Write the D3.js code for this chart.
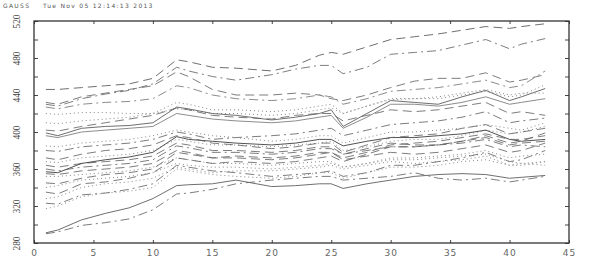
<!DOCTYPE html>
<html>
<head>
<meta charset="utf-8">
<script src="https://cdn.jsdelivr.net/npm/d3@7"></script>
<style>
  body { margin: 0; background: #fff; }
  svg { display: block; }
  .tick line { stroke: #444; }
</style>
</head>
<body>
<div id="chart"></div>
<script>
// sample positions along the x axis
const xs = [1, 2, 4, 6, 8, 10, 12, 13, 15, 17, 20, 22, 24, 25, 26, 28, 30, 32, 34, 36, 38, 40, 41, 43];

// each series: line style + values at xs
const series = [
    { style: 'dash',    color: '#555', values: [446,446,448,450,452,458,478,476,470,469,466,472,483,486,484,492,500,503,506,510,514,512,514,517] },
    { style: 'dashdot', color: '#666', values: [430,428,436,441,445,452,470,466,460,456,462,468,472,472,463,470,484,486,488,494,500,490,495,501] },
    { style: 'dash',    color: '#666', values: [432,430,438,442,446,450,465,460,446,440,440,442,440,436,434,440,448,455,458,458,464,454,456,462] },
    { style: 'dashdot', color: '#777', values: [427,425,430,432,433,436,450,448,440,436,434,436,440,438,430,436,444,446,448,452,456,448,450,466] },
    { style: 'dot',     color: '#888', values: [420,419,421,421,420,420,425,424,420,420,418,420,424,426,420,428,435,436,436,440,444,438,440,451] },
    { style: 'solid',   color: '#555', values: [399,396,404,406,407,410,427,425,420,418,413,416,420,424,406,420,434,432,430,438,445,434,438,447] },
    { style: 'solid',   color: '#777', values: [396,394,400,402,404,406,420,418,414,412,410,412,416,418,404,416,430,430,428,432,438,430,432,436] },
    { style: 'dash',    color: '#666', values: [402,401,406,410,414,418,426,424,418,416,414,418,420,420,412,418,424,422,424,428,432,420,422,418] },
    { style: 'dashdot', color: '#666', values: [380,379,384,386,388,392,400,398,392,394,396,398,402,404,396,402,408,410,412,416,422,410,412,415] },
    { style: 'dot',     color: '#888', values: [368,367,372,374,376,380,392,390,386,386,384,386,388,390,380,384,390,392,392,396,402,398,400,406] },
    { style: 'dash',    color: '#666', values: [364,362,366,368,370,374,388,386,380,380,378,380,384,384,376,382,388,386,386,390,396,388,390,399] },
    { style: 'solid',   color: '#333', values: [357,356,366,370,373,378,395,392,390,388,386,388,392,392,385,390,394,394,396,398,402,392,390,392] },
    { style: 'dash',    color: '#666', values: [355,354,358,360,362,366,380,378,372,372,370,372,376,378,370,374,378,376,378,382,386,378,380,388] },
    { style: 'dot',     color: '#888', values: [352,352,354,356,358,362,372,370,366,366,364,366,368,368,362,366,370,370,372,374,376,368,366,368] },
    { style: 'dash',    color: '#666', values: [335,333,344,346,350,356,372,370,366,368,366,368,372,374,368,376,384,384,386,390,394,386,388,390] },
    { style: 'dot',     color: '#888', values: [328,330,340,344,346,350,362,360,356,358,358,360,362,364,360,364,368,366,368,370,374,364,366,364] },
    { style: 'dashdot', color: '#666', values: [323,322,332,334,338,344,364,362,358,356,352,354,356,358,352,356,364,364,368,372,378,368,370,380] },
    { style: 'dot',     color: '#888', values: [317,320,330,334,336,340,360,358,354,352,350,352,356,356,350,356,362,362,364,368,370,364,364,368] },
    { style: 'solid',   color: '#555', values: [291,294,305,312,318,328,342,343,344,348,341,342,344,344,339,344,348,352,354,355,354,350,351,353] },
    { style: 'dashdot', color: '#666', values: [290,292,299,302,306,316,333,334,338,344,348,350,352,352,348,350,352,356,350,348,350,346,348,352] },
    { style: 'dot',     color: '#888', values: [410,409,412,414,416,420,432,430,424,424,422,424,428,430,420,428,436,436,438,442,446,440,442,442] },
    { style: 'dash',    color: '#666', values: [372,370,376,380,382,386,396,394,388,386,382,384,388,388,378,386,394,396,398,404,408,398,400,404] },
    { style: 'dot',     color: '#888', values: [385,384,388,390,392,396,402,400,396,394,390,392,396,396,388,394,400,400,402,404,408,404,402,410] },
    { style: 'dash',    color: '#666', values: [345,344,350,354,356,360,378,376,372,374,372,374,378,378,372,378,386,388,390,394,398,392,392,396] },
    { style: 'dashdot', color: '#666', values: [360,358,362,364,366,370,385,383,378,378,376,378,382,382,376,380,384,384,386,388,392,384,386,384] },
    { style: 'dot',     color: '#888', values: [340,342,348,350,352,356,366,364,362,362,360,362,364,366,362,366,372,372,374,376,380,372,374,376] }
];

const xTicks = [0, 5, 10, 15, 20, 25, 30, 35, 40, 45];
const yTicks = [280, 300, 320, 340, 360, 380, 400, 420, 440, 460, 480, 500, 520];
const yLabels = [280, 320, 360, 400, 440, 480, 520];
const title = 'GAUSS    Tue Nov 05 12:14:13 2013';

const dashes = {
    solid: null,
    dash: '9,5',
    dashdot: '9,4,2,4',
    dot: '1,3'
};

const W = 590, H = 260;
const margin = { top: 21, right: 21, bottom: 17, left: 34 };

const svg = d3.select('#chart').append('svg')
    .attr('width', W)
    .attr('height', H);

const x = d3.scaleLinear().domain([0, 45]).range([margin.left, W - margin.right]);
const y = d3.scaleLinear().domain([280, 520]).range([H - margin.bottom, margin.top]);

// title
svg.append('text')
    .attr('x', 3)
    .attr('y', 8)
    .attr('font-family', 'DejaVu Sans')
    .attr('font-size', '6px')
    .attr('letter-spacing', '1.3px')
    .attr('fill', '#555')
    .style('white-space', 'pre')
    .text(title);

// lines
const line = d3.line()
    .x((d, i) => x(xs[i]))
    .y(d => y(d));

svg.append('g')
    .selectAll('path')
    .data(series)
    .join('path')
    .attr('d', d => line(d.values))
    .attr('fill', 'none')
    .attr('stroke', d => d.color)
    .attr('stroke-width', d => d.style === 'dot' ? 1 : 0.85)
    .attr('stroke-dasharray', d => dashes[d.style]);

// axes with inward ticks
const bottom = svg.append('g')
    .attr('transform', `translate(0,${H - margin.bottom})`)
    .call(d3.axisBottom(x).tickValues(xTicks).tickSize(-3).tickPadding(7));
bottom.selectAll('text')
    .attr('font-family', 'DejaVu Sans')
    .attr('font-size', '9px')
    .attr('letter-spacing', '1px')
    .attr('fill', '#666');

svg.append('g')
    .attr('transform', `translate(0,${margin.top})`)
    .call(d3.axisTop(x).tickValues(xTicks).tickSize(-3).tickFormat(''));

const left = svg.append('g')
    .attr('transform', `translate(${margin.left},0)`)
    .call(d3.axisLeft(y).tickValues(yTicks).tickSize(-4).tickFormat(''));

left.selectAll('.tick')
    .filter(d => yLabels.includes(d))
    .append('text')
    .attr('text-anchor', 'middle')
    .attr('dy', '0.35em')
    .attr('font-family', 'Liberation Serif')
    .attr('font-size', '11px')
    .attr('fill', '#444')
    .attr('transform', 'translate(-18,0) rotate(-90) scale(0.85,1)')
    .text(d => d);

svg.append('g')
    .attr('transform', `translate(${W - margin.right},0)`)
    .call(d3.axisRight(y).tickValues(yTicks).tickSize(-4).tickFormat(''));

svg.selectAll('.domain').remove();

// frame
svg.append('rect')
    .attr('x', margin.left)
    .attr('y', margin.top)
    .attr('width', W - margin.left - margin.right)
    .attr('height', H - margin.top - margin.bottom)
    .attr('fill', 'none')
    .attr('stroke', '#333')
    .attr('stroke-width', 1.3);
</script>
</body>
</html>
